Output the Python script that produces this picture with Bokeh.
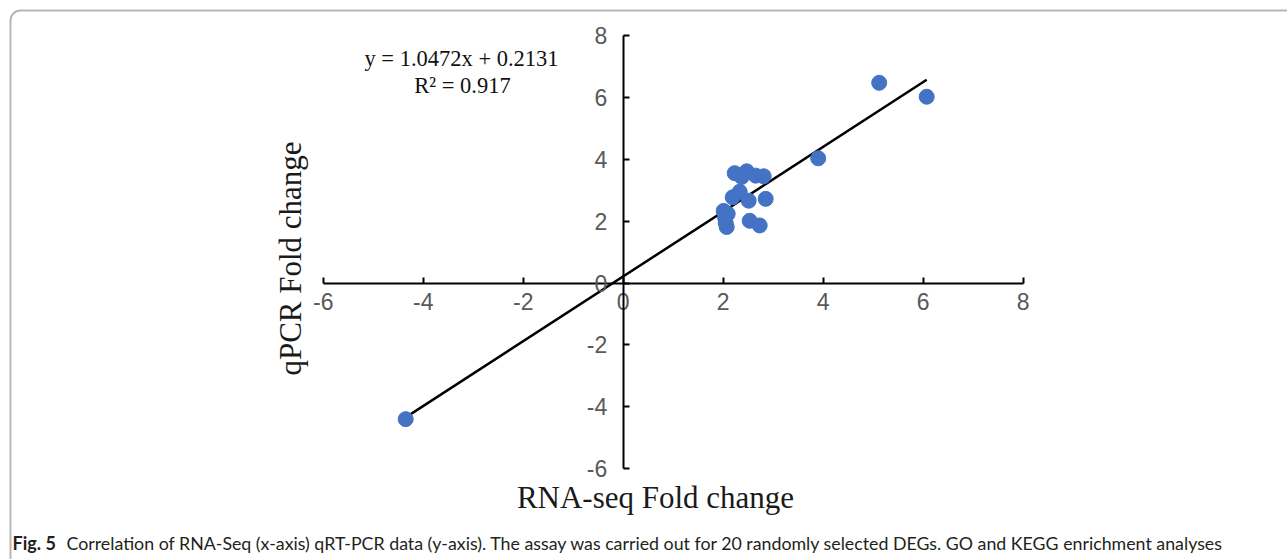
import math
import numpy as np
from bokeh.plotting import figure
from bokeh.models import Range1d, FixedTicker, Label, BoxAnnotation
from bokeh.embed import file_html
from bokeh.resources import INLINE

# ---- data ----
rna_seq = [-4.35, 5.12, 6.07, 3.90,
           2.23, 2.47, 2.37, 2.65, 2.81,
           2.19, 2.33, 2.51, 2.85,
           2.01, 2.09, 2.05, 2.07,
           2.53, 2.73, 2.04]
qpcr = [-4.40, 6.47, 6.02, 4.03,
        3.55, 3.61, 3.43, 3.47, 3.45,
        2.77, 2.95, 2.66, 2.72,
        2.33, 2.24, 1.94, 1.81,
        2.01, 1.86, 2.10]
slope = 1.0472
intercept = 0.2131
r2 = 0.917
ticks = [-6, -4, -2, 0, 2, 4, 6, 8]
tick_labels = ["-6", "-4", "-2", "0", "2", "4", "6", "8"]

W, H = 1287, 559
# pixel layout helpers (screen px -> data)
X0PX, XSCALE = 622.7, 50.0
Y0PX, YSCALE = 282.5, 30.94
def X(px):
    return (px - X0PX) / XSCALE
def Y(py):
    return (Y0PX - py) / YSCALE

p = figure(width=W, height=H, output_backend="svg", toolbar_location=None,
           x_range=Range1d(X(0), X(W)), y_range=Range1d(Y(H), Y(0)),
           min_border=0, min_border_left=0, min_border_right=0,
           min_border_top=0, min_border_bottom=0)
p.outline_line_color = None
p.xgrid.visible = False
p.ygrid.visible = False
p.background_fill_color = "white"
p.border_fill_color = "white"

for ax in (p.xaxis[0], p.yaxis[0]):
    ax.fixed_location = 0
    ax.bounds = (min(ticks), max(ticks))
    ax.ticker = FixedTicker(ticks=ticks)
    ax.major_label_overrides = {t: s for t, s in zip(ticks, tick_labels)}
    ax.minor_tick_line_color = None
    ax.major_tick_in = 6
    ax.major_tick_out = 0
    ax.axis_line_color = "black"
    ax.axis_line_width = 2
    ax.major_tick_line_color = "black"
    ax.major_tick_line_width = 2
    ax.major_label_text_font = "Liberation Sans"
    ax.major_label_text_font_size = "23px"
    ax.major_label_text_color = "#595959"
p.xaxis[0].major_label_standoff = 10
p.yaxis[0].major_label_standoff = 16

# trend line over the data extent
xmin, xmax = min(rna_seq), max(rna_seq)
p.line([xmin, xmax], [slope * xmin + intercept, slope * xmax + intercept],
       line_color="black", line_width=2.5)

p.scatter(rna_seq, qpcr, size=15, fill_color="#4472C4", line_color="#4472C4")

serif = "Liberation Serif"
p.add_layout(Label(x=X(461), y=Y(58), text=f"y = {slope:.4f}x + {intercept:.4f}",
                   text_font=serif, text_font_size="22.5px", text_color="#111111",
                   text_align="center", text_baseline="middle"))
p.add_layout(Label(x=X(462), y=Y(85), text=f"R² = {r2}",
                   text_font=serif, text_font_size="22.5px", text_color="#111111",
                   text_align="center", text_baseline="middle"))

p.add_layout(Label(x=X(655), y=Y(497), text="RNA-seq Fold change",
                   text_font=serif, text_font_size="31px", text_color="#1a1a1a",
                   text_align="center", text_baseline="middle"))
p.add_layout(Label(x=X(290), y=Y(258), text="qPCR Fold change", angle=math.pi / 2,
                   text_font=serif, text_font_size="31px", text_color="#1a1a1a",
                   text_align="center", text_baseline="middle"))

# frame
p.add_layout(BoxAnnotation(left=X(10), right=X(1320), top=Y(10), bottom=Y(590),
                           fill_alpha=0, line_color="#111111", line_width=2,
                           border_radius=10))

# caption
p.add_layout(Label(x=X(12), y=Y(542), text="Fig. 5", text_font="Lato",
                   text_font_style="bold", text_font_size="18px", text_color="#231f20",
                   text_align="left", text_baseline="middle"))
p.add_layout(Label(x=X(66), y=Y(542),
                   text="Correlation of RNA-Seq (x-axis) qRT-PCR data (y-axis). The assay was carried out for 20 randomly selected DEGs. GO and KEGG enrichment analyses",
                   text_font="Lato", text_font_size="17.8px", text_color="#231f20",
                   text_align="left", text_baseline="middle"))

open("out.html", "w").write(file_html(p, INLINE))
